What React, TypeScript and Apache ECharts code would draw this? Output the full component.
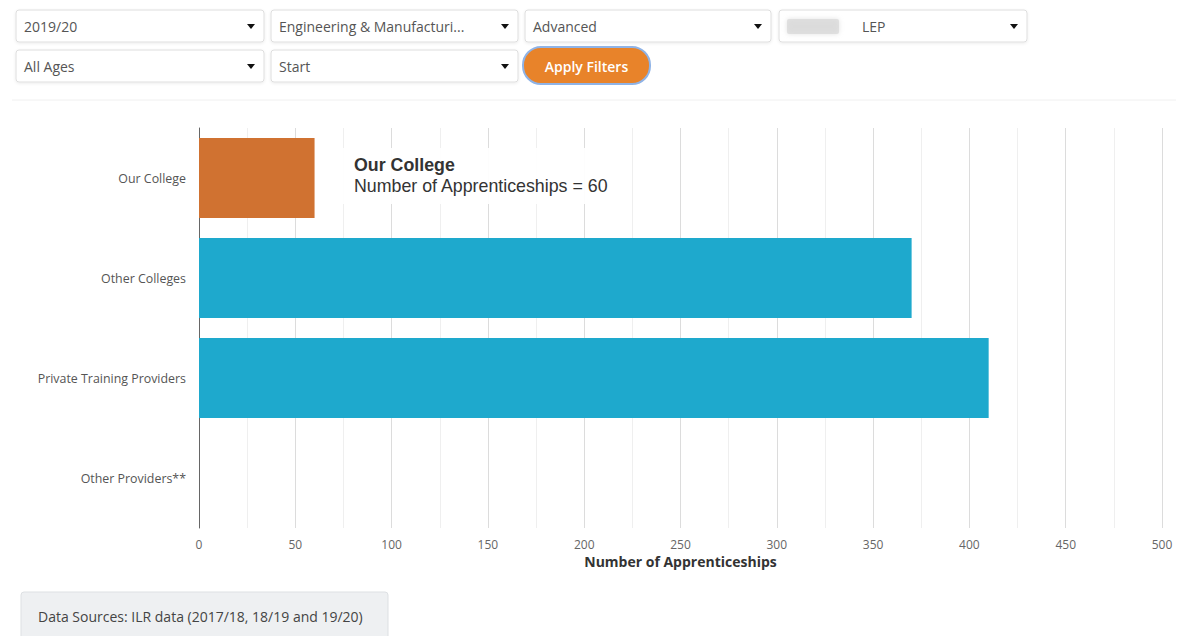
import React, { useEffect, useRef } from "react";
import * as echarts from "echarts";

const categories = ["Our College", "Other Colleges", "Private Training Providers", "Other Providers**"];
const values = [60, 370, 410, 0];
const barColors = ["#D07231", "#1EA9CD", "#1EA9CD", "#1EA9CD"];
const filterRow1 = ["2019/20", "Engineering & Manufacturi...", "Advanced", "LEP"];
const filterRow2 = ["All Ages", "Start"];
const axisTitle = "Number of Apprenticeships";
const highlightTitle = "Our College";
const highlightText = "Number of Apprenticeships = 60";
const footerText = "Data Sources: ILR data (2017/18, 18/19 and 19/20)";

const UI_FONT = "'Open Sans', 'Noto Sans', sans-serif";

function dropdown(x: number, y: number, w: number, h: number, label: string, textX?: number) {
  return {
    type: "group",
    children: [
      {
        type: "rect",
        shape: { x, y, width: w, height: h, r: 3 },
        style: { fill: "#fff", stroke: "#dedede", lineWidth: 1, shadowColor: "rgba(0,0,0,0.08)", shadowBlur: 3, shadowOffsetY: 1 },
      },
      {
        type: "text",
        x: textX ?? x + 8,
        y: y + h / 2,
        style: { text: label, fill: "#555", font: `14px ${UI_FONT}`, verticalAlign: "middle" },
      },
      {
        type: "polygon",
        shape: { points: [[x + w - 17, y + h / 2 - 2], [x + w - 9, y + h / 2 - 2], [x + w - 13, y + h / 2 + 3]] },
        style: { fill: "#111" },
      },
    ],
  };
}

export default function App() {
  const ref = useRef<HTMLDivElement>(null);
  useEffect(() => {
    if (!ref.current) return;
    const chart = echarts.init(ref.current, null, { renderer: "svg" });
    const graphics: any[] = [
      dropdown(16, 10, 248, 32, filterRow1[0]),
      dropdown(271, 10, 247, 32, filterRow1[1]),
      dropdown(525, 10, 246, 32, filterRow1[2]),
      dropdown(779, 10, 248, 32, filterRow1[3], 862),
      {
        type: "rect",
        shape: { x: 787, y: 19, width: 52, height: 15, r: 2 },
        style: { fill: "#dadada", opacity: 0.75, shadowColor: "#d8d8d8", shadowBlur: 5 },
      },
      dropdown(16, 50, 248, 32, filterRow2[0]),
      dropdown(271, 50, 247, 32, filterRow2[1]),
      {
        type: "rect",
        shape: { x: 523, y: 47, width: 127, height: 37, r: 18 },
        style: { fill: "#E8832A", stroke: "#8fb3e6", lineWidth: 2 },
      },
      {
        type: "text",
        x: 586.5,
        y: 66,
        style: { text: "Apply Filters", fill: "#fff", font: `600 14px ${UI_FONT}`, align: "center", verticalAlign: "middle" },
      },
      {
        type: "line",
        shape: { x1: 12, y1: 100, x2: 1176, y2: 100 },
        style: { stroke: "#f0f0f0", lineWidth: 1 },
      },
      {
        type: "group",
        z: 100,
        children: [
          {
            type: "rect",
            z: 100,
            shape: { x: 340, y: 148, width: 285, height: 56 },
            style: { fill: "rgba(255,255,255,0.92)" },
          },
          {
            type: "text",
            z: 101,
            x: 354,
            y: 165,
            style: { text: highlightTitle, fill: "#333", font: "bold 17.8px 'Liberation Sans', Arial, sans-serif", verticalAlign: "middle" },
          },
          {
            type: "text",
            z: 101,
            x: 354,
            y: 186,
            style: { text: highlightText, fill: "#333", font: "17.8px 'Liberation Sans', Arial, sans-serif", verticalAlign: "middle" },
          },
        ],
      },
      {
        type: "rect",
        shape: { x: 21, y: 592, width: 367, height: 50, r: 3 },
        style: { fill: "#eef0f2", stroke: "#dde0e3", lineWidth: 1 },
      },
      {
        type: "text",
        x: 38,
        y: 616,
        style: { text: footerText, fill: "#444", font: `14px ${UI_FONT}`, verticalAlign: "middle" },
      },
    ];
    chart.setOption({
      animation: false,
      grid: { left: 199, right: 22, top: 128, bottom: 108 },
      xAxis: {
        type: "value",
        min: 0,
        max: 500,
        interval: 50,
        name: axisTitle,
        nameLocation: "middle",
        nameGap: 26,
        nameTextStyle: { fontFamily: UI_FONT, fontWeight: "bold", fontSize: 14, color: "#333" },
        axisLine: { show: false },
        axisTick: { show: false },
        axisLabel: { fontFamily: UI_FONT, fontSize: 12, color: "#666", margin: 10 },
        splitLine: { show: true, lineStyle: { color: "#dcdcdc", width: 1 } },
        minorTick: { show: false, splitNumber: 2 },
        minorSplitLine: { show: true, lineStyle: { color: "#efefef", width: 1 } },
      },
      yAxis: {
        type: "category",
        data: categories,
        inverse: true,
        axisLine: { show: true, lineStyle: { color: "#666", width: 1 } },
        axisTick: { show: false },
        axisLabel: { fontFamily: UI_FONT, fontSize: 12.4, color: "#555", margin: 13 },
        splitLine: { show: false },
      },
      series: [
        {
          type: "bar",
          data: values.map((v, i) => ({ value: v, itemStyle: { color: barColors[i] } })),
          barCategoryGap: "20%",
        },
      ],
      graphic: graphics,
    });
    return () => chart.dispose();
  }, []);
  return <div ref={ref} style={{ position: "absolute", left: 0, top: 0, width: 1184, height: 636 }} />;
}
